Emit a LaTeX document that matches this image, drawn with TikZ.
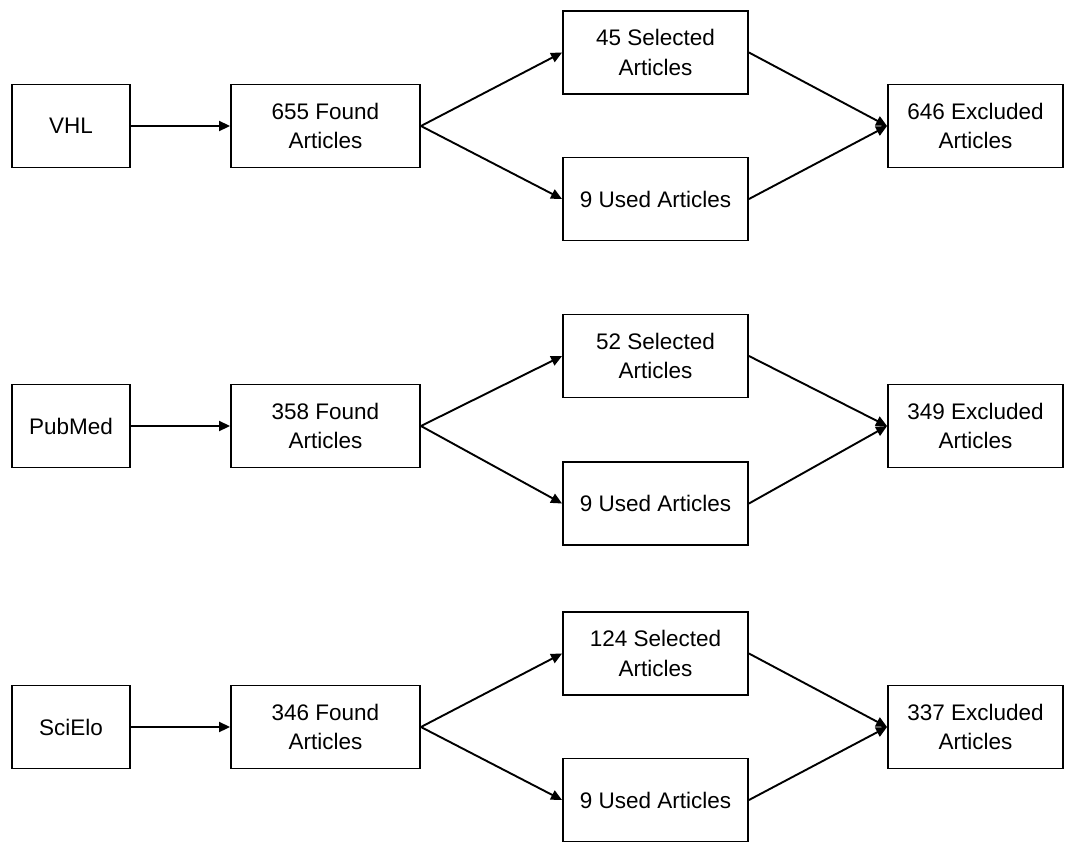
\documentclass[tikz,border=0pt]{standalone}
\usepackage{fontspec}
\setmainfont{Liberation Sans}
\usetikzlibrary{arrows.meta}
\begin{document}
\begin{tikzpicture}[x=1pt,y=-1pt,
  box/.style={draw, line width=1.9pt, minimum height=83pt, inner sep=0pt, align=center,
    font=\fontsize{22.5}{29.5}\selectfont},
  src/.style={box, minimum width=118pt},
  found/.style={box, minimum width=189pt},
  mid/.style={box, minimum width=185pt},
  excl/.style={box, minimum width=175pt},
  conn/.style={line width=1.9pt, -{Triangle[length=11pt,width=10pt]}}]
\useasboundingbox (0,0) rectangle (1076,841);
\foreach \r/\rs/\ru/\src/\fnd/\sel/\exc/\k in {126/52.5/199/VHL/655/45/646/a, 426/356/503.5/PubMed/358/52/349/b, 727/653.5/800/SciElo/346/124/337/c}{
  \node[src]   (s\k) at (71,\r) {\src};
  \node[found] (f\k) at (325.5,\r) {\fnd{} Found\\Articles};
  \node[mid]   (m\k) at (655.5,\rs) {\sel{} Selected\\Articles};
  \node[mid]   (u\k) at (655.5,\ru) {9 Used Articles};
  \node[excl]  (e\k) at (975.5,\r) {\exc{} Excluded\\Articles};
  \draw[conn] (s\k.east) -- (f\k.west);
  \draw[conn] (f\k.east) -- (m\k.west);
  \draw[conn] (f\k.east) -- (u\k.west);
  \draw[conn] (m\k.east) -- (e\k.west);
  \draw[conn] (u\k.east) -- (e\k.west);
}
\end{tikzpicture}
\end{document}
